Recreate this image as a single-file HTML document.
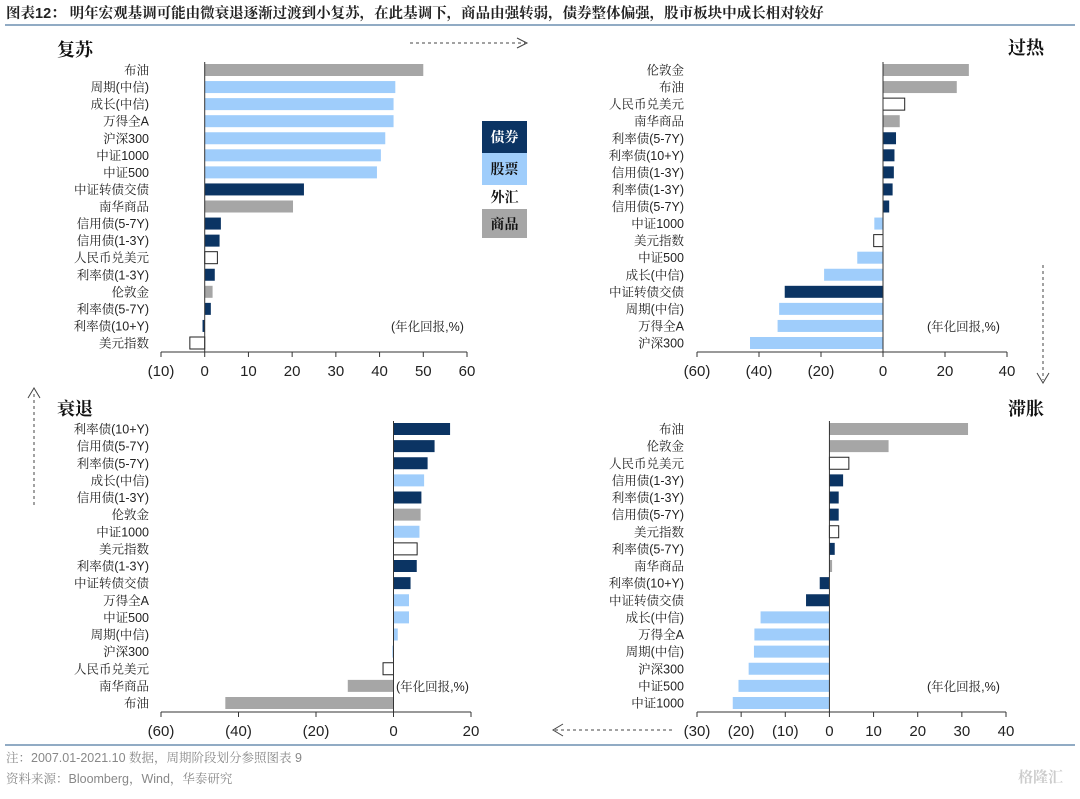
<!DOCTYPE html>
<html><head><meta charset="utf-8">
<style>
body{margin:0;background:#fff;width:1080px;height:794px;overflow:hidden;font-family:"Liberation Sans","Noto Serif CJK SC",serif;}
svg text{font-family:"Liberation Sans","Noto Serif CJK SC",serif;}
</style></head><body>
<svg id="c" width="1080" height="794" xmlns="http://www.w3.org/2000/svg">
<text x="6" y="18" font-size="14.5" font-weight="bold" fill="#222" font-family="'Liberation Sans','Noto Sans CJK SC',sans-serif">图表12：  明年宏观基调可能由微衰退逐渐过渡到小复苏，在此基调下，商品由强转弱，债券整体偏强，股市板块中成长相对较好</text>
<line x1="5" y1="25" x2="1075" y2="25" stroke="#6d8fb0" stroke-width="1.5"/>
<line x1="5" y1="745" x2="1075" y2="745" stroke="#6d8fb0" stroke-width="1.5"/>
<text x="6" y="762" font-size="12.5" fill="#888">注：2007.01-2021.10 数据，周期阶段划分参照图表 9</text>
<text x="6" y="783" font-size="12.5" fill="#888">资料来源：Bloomberg，Wind，华泰研究</text>
<text x="1018" y="782" font-size="15" fill="#ccc" font-weight="bold">格隆汇</text>

<g font-size="14" font-weight="bold" text-anchor="middle" font-family="'Liberation Sans','Noto Sans CJK SC',sans-serif">
<rect x="482" y="121" width="45" height="32" fill="#0b3463"/>
<text x="504.5" y="142" fill="#fff">债券</text>
<rect x="482" y="153" width="45" height="32" fill="#9fcdfb"/>
<text x="504.5" y="174" fill="#111">股票</text>
<text x="504.5" y="202" fill="#111">外汇</text>
<rect x="482" y="209" width="45" height="29" fill="#a6a6a6"/>
<text x="504.5" y="229" fill="#111">商品</text>
</g>

<g stroke="#444" stroke-width="1" stroke-dasharray="3,3" fill="none">
<line x1="410" y1="43" x2="525" y2="43"/>
<line x1="1043" y1="265" x2="1043" y2="380"/>
<line x1="34" y1="505" x2="34" y2="392"/>
<line x1="672" y1="730" x2="555" y2="730"/>
</g>
<g stroke="#444" stroke-width="1" fill="none">
<polyline points="517,38 527,43 517,48"/>
<polyline points="1037,373 1043,383 1049,373"/>
<polyline points="28,398 34,388 40,398"/>
<polyline points="563,724 553,730 563,736"/>
</g>
<g id="panels"></g>
</svg>
<script>
// Panel 1: 复苏
const p1Cats=["布油","周期(中信)","成长(中信)","万得全A","沪深300","中证1000","中证500","中证转债交债","南华商品","信用债(5-7Y)","信用债(1-3Y)","人民币兑美元","利率债(1-3Y)","伦敦金","利率债(5-7Y)","利率债(10+Y)","美元指数"];
const p1Types=["c","s","s","s","s","s","s","b","c","b","b","f","b","c","b","b","f"];
const p1Vals=[50,43.6,43.2,43.2,41.3,40.3,39.4,22.7,20.2,3.7,3.4,2.9,2.3,1.8,1.4,-0.5,-3.4];
const p1Ticks=[-10,0,10,20,30,40,50,60];
// Panel 2: 过热
const p2Cats=["伦敦金","布油","人民币兑美元","南华商品","利率债(5-7Y)","利率债(10+Y)","信用债(1-3Y)","利率债(1-3Y)","信用债(5-7Y)","中证1000","美元指数","中证500","成长(中信)","中证转债交债","周期(中信)","万得全A","沪深300"];
const p2Types=["c","c","f","c","b","b","b","b","b","s","f","s","s","b","s","s","s"];
const p2Vals=[27.7,23.8,7.0,5.4,4.2,3.7,3.5,3.1,2.0,-2.8,-3.0,-8.3,-19,-31.7,-33.5,-34,-42.9];
const p2Ticks=[-60,-40,-20,0,20,40];
// Panel 3: 衰退
const p3Cats=["利率债(10+Y)","信用债(5-7Y)","利率债(5-7Y)","成长(中信)","信用债(1-3Y)","伦敦金","中证1000","美元指数","利率债(1-3Y)","中证转债交债","万得全A","中证500","周期(中信)","沪深300","人民币兑美元","南华商品","布油"];
const p3Types=["b","b","b","s","b","c","s","f","b","b","s","s","s","s","f","c","c"];
const p3Vals=[14.6,10.6,8.8,7.9,7.2,7.0,6.7,6.1,6.0,4.4,4.0,4.0,1.1,-0.3,-2.7,-11.8,-43.4];
const p3Ticks=[-60,-40,-20,0,20];
// Panel 4: 滞胀
const p4Cats=["布油","伦敦金","人民币兑美元","信用债(1-3Y)","利率债(1-3Y)","信用债(5-7Y)","美元指数","利率债(5-7Y)","南华商品","利率债(10+Y)","中证转债交债","成长(中信)","万得全A","周期(中信)","沪深300","中证500","中证1000"];
const p4Types=["c","c","f","b","b","b","f","b","c","b","b","s","s","s","s","s","s"];
const p4Vals=[31.4,13.4,4.4,3.1,2.1,2.1,2.1,1.2,0.6,-2.2,-5.3,-15.6,-17.0,-17.1,-18.3,-20.6,-21.9];
const p4Ticks=[-30,-20,-10,0,10,20,30,40];

const NS="http://www.w3.org/2000/svg";
const root=document.getElementById('panels');
const fills={b:"#0b3463",s:"#9fcdfb",c:"#a6a6a6",f:"#fff"};
function mk(tag,attrs,parent){const e=document.createElementNS(NS,tag);for(const k in attrs)e.setAttribute(k,attrs[k]);parent.appendChild(e);return e;}
function fmt(v){return v<0?"("+(-v)+")":String(v);}
function panel(cfg){
  const g=mk('g',{},root);
  
  
  const t=cfg.ticks, lo=t[0], hi=t[t.length-1];
  const x=v=>cfg.x0+(v-lo)/(hi-lo)*(cfg.x1-cfg.x0);
  const n=cfg.cats.length, step=(cfg.lastY-cfg.firstY)/(n-1);
  const y=i=>cfg.firstY+i*step;
  cfg.cats.forEach((c,i)=>{
    const lb=mk('text',{x:cfg.labelX,y:y(i)+4.5,'font-size':12.5,'text-anchor':'end',fill:'#222'},g);
    lb.textContent=c;
    
    
    const v=cfg.vals[i], tp=cfg.types[i];
    const a=x(Math.min(0,v)), b=x(Math.max(0,v));
    const r=mk('rect',{x:a,y:y(i)-6,width:Math.max(b-a,0.8),height:12,fill:fills[tp]},g);
    if(tp==='f'){r.setAttribute('stroke','#222');r.setAttribute('stroke-width','1');}
    
    
  });
  const zl=mk('line',{x1:x(0),x2:x(0),y1:cfg.firstY-8,y2:cfg.axisY,stroke:'#333','stroke-width':1},g);
  
  
  const ax=mk('line',{x1:cfg.x0,x2:cfg.x1,y1:cfg.axisY,y2:cfg.axisY,stroke:'#333','stroke-width':1},g);
  
  
  t.forEach(v=>{
    const tk=mk('line',{x1:x(v),x2:x(v),y1:cfg.axisY,y2:cfg.axisY+5,stroke:'#333'},g);
    
    
    const tl=mk('text',{x:x(v),y:cfg.axisY+24,'font-size':15,'text-anchor':'middle',fill:'#222'},g);
    tl.textContent=fmt(v);
    
    
  });
  const u=mk('text',{x:cfg.unitX,y:cfg.unitY,'font-size':12.5,fill:'#222'},g);
  u.textContent='(年化回报,%)';
  
  
  const ti=mk('text',{x:cfg.titleX,y:cfg.titleY,'font-size':18,'font-weight':'bold',fill:'#111','font-family':"'Liberation Sans','Noto Sans CJK SC',sans-serif"},g);
  ti.textContent=cfg.title;
  
  
}
panel({name:'recovery-panel',title:'复苏',titleX:57,titleY:56,cats:p1Cats,types:p1Types,vals:p1Vals,ticks:p1Ticks,x0:161,x1:467,firstY:70,lastY:343,axisY:352,labelX:149,unitX:391,unitY:331});
panel({name:'overheat-panel',title:'过热',titleX:1008,titleY:54,cats:p2Cats,types:p2Types,vals:p2Vals,ticks:p2Ticks,x0:697,x1:1007,firstY:70,lastY:343,axisY:352,labelX:684,unitX:927,unitY:331});
panel({name:'recession-panel',title:'衰退',titleX:57,titleY:415,cats:p3Cats,types:p3Types,vals:p3Vals,ticks:p3Ticks,x0:161,x1:471,firstY:429,lastY:703,axisY:712,labelX:149,unitX:396,unitY:691});
panel({name:'stagflation-panel',title:'滞胀',titleX:1008,titleY:415,cats:p4Cats,types:p4Types,vals:p4Vals,ticks:p4Ticks,x0:697,x1:1006,firstY:429,lastY:703,axisY:712,labelX:684,unitX:927,unitY:691});
</script>
</body></html>
